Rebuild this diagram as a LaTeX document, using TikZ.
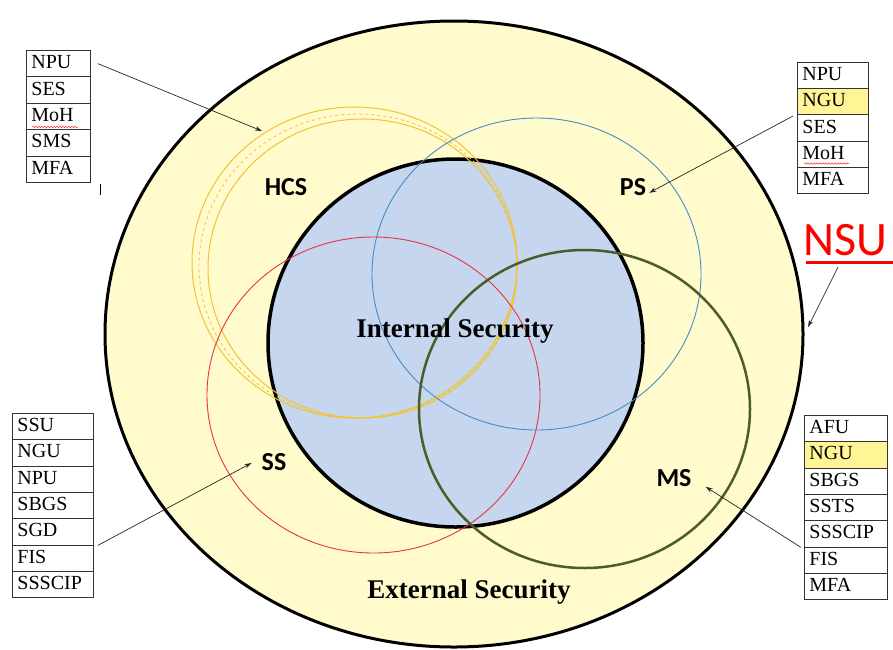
\documentclass[tikz,border=0pt]{standalone}
\usepackage{fontspec}
\setmainfont{Liberation Serif}
\newfontfamily\calib{Carlito}
\usetikzlibrary{decorations.pathmorphing,arrows.meta}
\definecolor{outerfill}{RGB}{255,251,204}
\definecolor{innerfill}{RGB}{197,214,238}
\definecolor{hcsyel}{RGB}{240,196,50}
\definecolor{psblue}{RGB}{70,140,200}
\definecolor{ssred}{RGB}{232,50,70}
\definecolor{msgreen}{RGB}{74,94,40}
\definecolor{hilite}{RGB}{255,245,150}
\begin{document}
\begin{tikzpicture}[x=1pt,y=-1pt,
  cell/.style={draw=black!80, line width=0.8pt, fill=white, anchor=north west,
    minimum height=26.4pt, inner xsep=5pt, inner ysep=0pt, align=left,
    text height=14pt, text depth=4pt, font=\fontsize{20}{20}\selectfont},
  lab/.style={font=\calib\bfseries\fontsize{26}{26}\selectfont, inner sep=0pt},
  big/.style={font=\bfseries\fontsize{27}{27}\selectfont, inner sep=0pt, anchor=base},
  ptr/.style={draw=black!85, line width=0.7pt, -{Stealth[length=7pt,width=4.5pt]}},
  spell/.style={draw=red!80, line width=0.5pt, decorate,
    decoration={snake, amplitude=0.8pt, segment length=3pt}}]
\useasboundingbox (0,0) rectangle (893,649);
% main areas
\draw[fill=outerfill, line width=3pt] (454,334) ellipse [x radius=349pt, y radius=313pt];
\draw[fill=innerfill, line width=3.5pt] (455.5,343) ellipse [x radius=187.5pt, y radius=184pt];
% overlapping circles
\draw[hcsyel, line width=1pt] (354.5,262.5) ellipse [x radius=162.5pt, y radius=155.5pt];
\draw[hcsyel, line width=0.8pt, dashed] (358,266) ellipse [x radius=159pt, y radius=152pt];
\draw[hcsyel, line width=1pt] (362.5,268.5) ellipse [x radius=154.5pt, y radius=149.5pt];
\draw[psblue, line width=0.9pt] (536.5,274) ellipse [x radius=164.5pt, y radius=156pt];
\draw[ssred, line width=0.9pt] (373.5,395) ellipse [x radius=166.5pt, y radius=158pt];
\draw[msgreen, line width=2.5pt] (584.5,409) ellipse [x radius=165.5pt, y radius=159pt];
% labels
\node[big] (ints) at (455,337) {Internal Security};
\node[big] (exts) at (469,598) {External Security};
\node[lab] (hcs) at (286,187.5) {HCS};
\node[lab] (ps) at (633,187) {PS};
\node[lab] (ss) at (274,462) {SS};
\node[lab] (ms) at (674,478) {MS};
% NSU
\node[anchor=base west, inner sep=0pt, text=red, font=\calib\fontsize{48}{48}\selectfont] (nsu) at (803,255) {NSU};
\draw[red, line width=3pt] (nsu.base west) ++(3,7) -- ++(90,0);
\coordinate (nsutip) at (808,327);
\draw[ptr] ([xshift=35pt,yshift=-12pt]nsu.base west) -- (nsutip);
% top-left box
\node[cell, text width=54pt] (tl1) at (26,50) {NPU};
\node[cell, text width=54pt] (tl2) at (26,76.4) {SES};
\node[cell, text width=54pt] (tl3) at (26,102.8) {MoH};
\node[cell, text width=54pt] (tl4) at (26,129.2) {SMS};
\node[cell, text width=54pt] (tl5) at (26,155.6) {MFA};
\draw[spell] (32,127) -- (78,127);
\draw[line width=1.3pt] (100.5,184) -- (100.5,195);
\coordinate (hcstip) at (262,131);
\draw[ptr] ([xshift=7pt]tl1.east) -- (hcstip);
% top-right box
\node[cell, text width=61pt] (tr1) at (797,62) {NPU};
\node[cell, text width=61pt, fill=hilite] (tr2) at (797,88.2) {NGU};
\node[cell, text width=61pt] (tr3) at (797,114.4) {SES};
\node[cell, text width=61pt] (tr4) at (797,140.6) {MoH};
\node[cell, text width=61pt] (tr5) at (797,166.8) {MFA};
\draw[spell] (804,163.5) -- (849,163.5);
\draw[ptr] ([xshift=-4pt,yshift=12pt]tr3.west) -- ([xshift=3pt,yshift=3pt]ps.south east);
% bottom-left box
\node[cell, text width=71pt] (bl1) at (12,413) {SSU};
\node[cell, text width=71pt] (bl2) at (12,439.3) {NGU};
\node[cell, text width=71pt] (bl3) at (12,465.6) {NPU};
\node[cell, text width=71pt] (bl4) at (12,491.9) {SBGS};
\node[cell, text width=71pt] (bl5) at (12,518.2) {SGD};
\node[cell, text width=71pt] (bl6) at (12,544.5) {FIS};
\node[cell, text width=71pt] (bl7) at (12,570.8) {SSSCIP};
\draw[ptr] ([xshift=4pt]bl5.south east) -- ([xshift=-10pt,yshift=-1pt]ss.west);
% bottom-right box
\node[cell, text width=73pt] (br1) at (804,415) {AFU};
\node[cell, text width=73pt, fill=hilite] (br2) at (804,441.3) {NGU};
\node[cell, text width=73pt] (br3) at (804,467.6) {SBGS};
\node[cell, text width=73pt] (br4) at (804,493.9) {SSTS};
\node[cell, text width=73pt] (br5) at (804,520.2) {SSSCIP};
\node[cell, text width=73pt] (br6) at (804,546.5) {FIS};
\node[cell, text width=73pt] (br7) at (804,572.8) {MFA};
\draw[ptr] ([xshift=-3pt]br5.south west) -- ([xshift=14pt,yshift=0pt]ms.south east);
\end{tikzpicture}
\end{document}
